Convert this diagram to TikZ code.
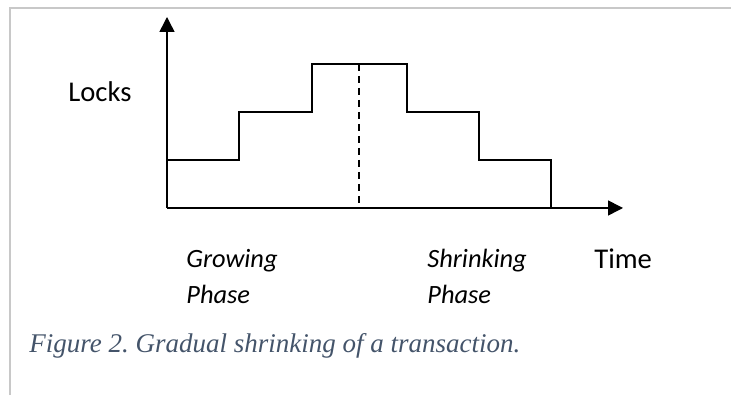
\documentclass[tikz,border=0pt]{standalone}
\usepackage{fontspec}
\setmainfont{Carlito}
\newfontfamily\capfont{Liberation Serif}
\usepackage{tikz}
\usetikzlibrary{arrows.meta,positioning}
\frenchspacing

\definecolor{captiongray}{RGB}{68,84,106}
\definecolor{framegray}{RGB}{200,200,200}

\tikzset{
    axis/.style={line width=0.75pt,-{Triangle[length=7.5pt,width=7.5pt]}},
    locks/.style={line width=0.75pt},
    phaseline/.style={line width=0.75pt,dash pattern=on 3.5pt off 2.5pt},
    label/.style={inner sep=0pt,anchor=base west,font=\fontsize{14.3}{17}\selectfont},
    phase/.style={inner sep=0pt,anchor=base west,font=\fontsize{13.2}{16}\selectfont\itshape},
}

\begin{document}
\begin{tikzpicture}[x=0.5pt,y=0.5pt]
    \useasboundingbox (0,0) rectangle (731,395);
    % page frame
    \draw[framegray,line width=1pt] (9.5,0) -- (9.5,386.5) -- (731,386.5);

    % axes
    \coordinate (O) at (167,187);
    \coordinate (ytop) at (167,378);
    \coordinate (xend) at (623,187);
    \draw[axis] (O) -- (ytop);
    \draw[axis] (O) -- (xend);

    % lock count over time
    \draw[locks] (167,235) -- (239,235) -- (239,283) -- (312,283) -- (312,331)
        -- (407,331) -- (407,283) -- (479,283) -- (479,235) -- (551,235) -- (551,187);
    \coordinate (peak) at (359,331);
    \coordinate (split) at (359,187);
    \draw[phaseline] (peak) -- (split);

    % labels
    \node[label] (locks) at (68,293) {Locks};
    \node[label] (time) at (594,126) {Time};
    \node[phase] (grow) at (186,127) {Growing};
    \node[phase] (growph) at (186,91) {Phase};
    \node[phase] (shrink) at (427,127) {Shrinking};
    \node[phase] (shrinkph) at (427,91) {Phase};

    \node[inner sep=0pt,anchor=base west,text=captiongray,
        font=\capfont\fontsize{13.5}{16}\selectfont\itshape] (caption) at (29,42)
        {Figure 2. Gradual shrinking of a transaction.};
\end{tikzpicture}
\end{document}
